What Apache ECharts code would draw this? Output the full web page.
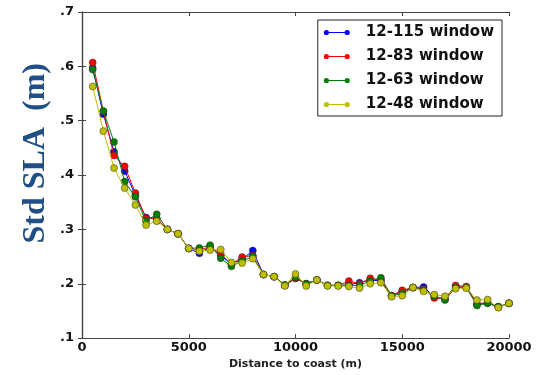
<!DOCTYPE html>
<html><head><meta charset="utf-8">
<script src="https://cdn.jsdelivr.net/npm/echarts@6/dist/echarts.min.js"></script>
<style>html,body{margin:0;padding:0;background:#fff}#c{width:542px;height:375px}</style>
</head><body><div id="c"></div>
<script>
const distances = [500,1000,1500,2000,2500,3000,3500,4000,4500,5000,5500,6000,6500,7000,7500,8000,8500,9000,9500,10000,10500,11000,11500,12000,12500,13000,13500,14000,14500,15000,15500,16000,16500,17000,17500,18000,18500,19000,19500,20000];
const w115 = [0.597,0.512,0.443,0.407,0.363,0.322,0.320,0.300,0.292,0.265,0.256,0.268,0.252,0.236,0.245,0.261,0.217,0.213,0.197,0.210,0.200,0.207,0.197,0.197,0.198,0.202,0.207,0.205,0.178,0.186,0.193,0.194,0.176,0.172,0.195,0.193,0.162,0.165,0.157,0.164];
const w83  = [0.607,0.517,0.436,0.416,0.367,0.320,0.320,0.300,0.292,0.265,0.262,0.268,0.255,0.236,0.249,0.252,0.217,0.213,0.197,0.210,0.200,0.207,0.197,0.197,0.205,0.200,0.210,0.207,0.178,0.188,0.193,0.190,0.174,0.172,0.197,0.195,0.163,0.165,0.157,0.164];
const w63  = [0.594,0.518,0.461,0.388,0.360,0.315,0.328,0.300,0.292,0.265,0.266,0.271,0.247,0.232,0.242,0.250,0.217,0.213,0.198,0.212,0.200,0.207,0.197,0.197,0.197,0.197,0.205,0.211,0.178,0.182,0.193,0.188,0.178,0.170,0.193,0.193,0.160,0.164,0.158,0.164];
const w48  = [0.563,0.481,0.413,0.376,0.345,0.308,0.315,0.300,0.292,0.265,0.260,0.262,0.263,0.239,0.238,0.246,0.217,0.213,0.196,0.218,0.196,0.207,0.196,0.196,0.195,0.192,0.200,0.202,0.176,0.178,0.193,0.186,0.180,0.177,0.191,0.192,0.170,0.171,0.156,0.164];
const seriesNames = ['12-115 window','12-83 window','12-63 window','12-48 window'];
const seriesColors = ['#0000ff','#ff0000','#008000','#bfbf00'];
const seriesData = [w115,w83,w63,w48];
const yTitle = 'Std SLA  (m)';
const xTitle = 'Distance to coast (m)';

const chart = echarts.init(document.getElementById('c'));
const icon = 'path://M0,3A3,3 0 1,1 6,3A3,3 0 1,1 0,3Z M5,2.5L25,2.5L25,3.5L5,3.5Z M24,3A3,3 0 1,1 30,3A3,3 0 1,1 24,3Z';
const axisLine = {show:true, lineStyle:{color:'#444', width:1.2}};
chart.setOption({
  animation:false,
  grid:{left:82, top:12, right:33, bottom:30, containLabel:false},
  graphic:[{
    type:'text', left:20, top:63, rotation:Math.PI/2,
    style:{text:yTitle, font:'bold 32px "Liberation Serif"', fill:'#1f4f85'}
  }],
  legend:{
    orient:'vertical', right:40, top:20, padding:[5,8,4,6],
    backgroundColor:'#fff', borderColor:'#222', borderWidth:1,
    itemWidth:26, itemHeight:7, itemGap:9,
    icon: icon,
    itemStyle:{borderWidth:0},
    textStyle:{fontFamily:'DejaVu Sans', fontWeight:'bold', fontSize:15, color:'#111', padding:[0,0,0,11]},
    data: seriesNames
  },
  xAxis:[{
    type:'value', min:0, max:20000, interval:5000,
    axisLine: axisLine,
    axisTick:{show:true, inside:true, length:4, lineStyle:{color:'#444'}},
    splitLine:{show:false},
    axisLabel:{fontFamily:'DejaVu Sans', fontWeight:'bold', fontSize:13, color:'#111', margin:3, formatter:v=>String(v)},
    name:xTitle, nameLocation:'middle', nameGap:19,
    nameTextStyle:{fontFamily:'DejaVu Sans', fontWeight:'bold', fontSize:11, color:'#222'}
  },{
    type:'value', min:0, max:20000, interval:5000, position:'top',
    axisLine: axisLine,
    axisTick:{show:true, inside:true, length:4, lineStyle:{color:'#444'}},
    axisLabel:{show:false}, splitLine:{show:false}
  }],
  yAxis:[{
    type:'value', min:0.1, max:0.7, interval:0.1,
    axisLine: axisLine,
    axisTick:{show:true, inside:true, length:4, lineStyle:{color:'#444'}},
    splitLine:{show:false},
    axisLabel:{fontFamily:'DejaVu Sans', fontWeight:'bold', fontSize:13, color:'#111', margin:8,
      formatter:v=>v.toFixed(1).replace(/^0/,'')}
  },{
    type:'value', min:0.1, max:0.7, interval:0.1, position:'right',
    axisLine: axisLine,
    axisTick:{show:true, inside:true, length:4, lineStyle:{color:'#444'}},
    axisLabel:{show:false}, splitLine:{show:false}
  }],
  series: seriesNames.map((n,i)=>({
    name:n, type:'line', xAxisIndex:0, yAxisIndex:0,
    data: distances.map((d,j)=>[d, seriesData[i][j]]),
    symbol:'circle', symbolSize:7,
    lineStyle:{color:seriesColors[i], width:1},
    itemStyle:{color:seriesColors[i], borderColor:'#333', borderWidth:0.5},
    z: 2+i
  }))
});
</script></body></html>
